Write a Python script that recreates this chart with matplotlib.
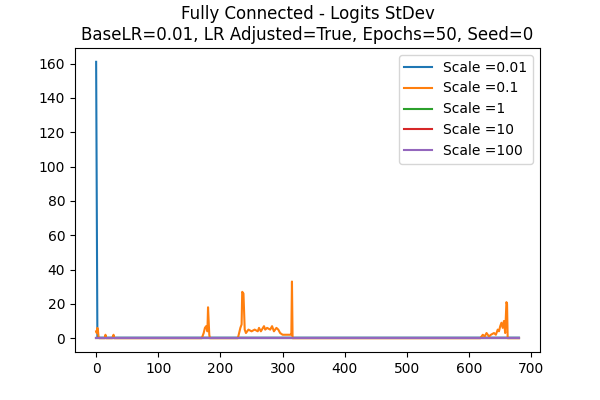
import matplotlib
matplotlib.use("Agg")
import matplotlib.pyplot as plt

x_end = 680
blue_x = [0, 2, 3, 680]
blue_y = [161, 0.5, 0.3, 0.3]
orange_x = [0, 1, 2, 3, 4, 5, 10, 14, 15, 16, 26, 28, 29, 30, 170, 173, 175, 177, 179, 180, 182, 183,
            228, 230, 232, 234, 235, 237, 239, 241, 245, 250, 255, 260, 262, 265, 270, 272, 275, 280, 283, 286, 290, 293, 296, 300, 313, 314, 315, 316,
            618, 622, 625, 628, 632, 635, 640, 643, 646, 648, 650, 652, 654, 656, 658, 660, 661, 662, 680]
orange_y = [4, 3, 6, 4, 0.5, 0, 0, 0, 2, 0, 0, 2, 0, 0, 0, 3, 6, 7, 4, 18, 2, 0,
            0, 3, 6, 8, 27, 26, 5, 3, 5, 4, 5, 4, 6, 4, 7, 5, 6, 5, 7, 4, 6, 5, 3, 2, 2, 2, 33, 0,
            0, 2, 1, 3, 1, 2, 3, 2, 5, 4, 7, 9, 6, 10, 3, 21, 20, 0, 0]
series = {
    "Scale =0.01": (blue_x, blue_y, "#1f77b4"),
    "Scale =0.1": (orange_x, orange_y, "#ff7f0e"),
    "Scale =1": ([0, x_end], [0, 0], "#2ca02c"),
    "Scale =10": ([0, x_end], [0, 0], "#d62728"),
    "Scale =100": ([0, x_end], [0, 0], "#9467bd"),
}

fig, ax = plt.subplots(figsize=(6, 4), dpi=100)
for name, (xs, ys, c) in series.items():
    ax.plot(xs, ys, color=c, label=name)
ax.set_xticks(range(0, 701, 100))
ax.set_yticks(range(0, 161, 20))
ax.set_title("Fully Connected - Logits StDev\nBaseLR=0.01, LR Adjusted=True, Epochs=50, Seed=0")
ax.legend(loc="upper right")
fig.subplots_adjust(left=0.125, right=0.9, bottom=0.12, top=0.88)
fig.savefig("out.png")
